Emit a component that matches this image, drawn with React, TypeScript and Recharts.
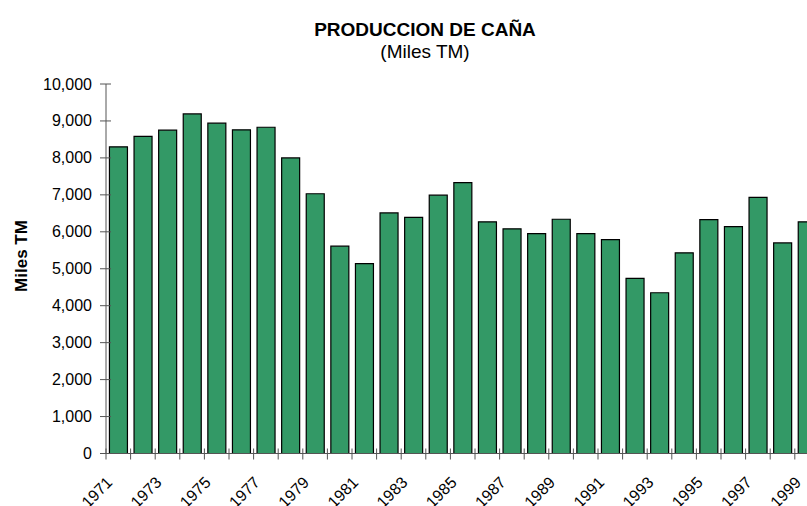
import React from 'react';
import { BarChart, Bar, XAxis, YAxis } from 'recharts';

const years = [
  '1971', '1972', '1973', '1974', '1975', '1976', '1977', '1978', '1979', '1980',
  '1981', '1982', '1983', '1984', '1985', '1986', '1987', '1988', '1989', '1990',
  '1991', '1992', '1993', '1994', '1995', '1996', '1997', '1998', '1999',
];

const produccion = [
  8300, 8580, 8750, 9190, 8940, 8760, 8830, 8000, 7030, 5610,
  5140, 6510, 6390, 6990, 7330, 6270, 6080, 5950, 6340, 5950,
  5790, 4740, 4350, 5430, 6330, 6140, 6930, 5700, 6270,
];

const yTicks = [0, 1000, 2000, 3000, 4000, 5000, 6000, 7000, 8000, 9000, 10000];

const data = years.map((y, i) => ({ year: y, value: produccion[i] }));

const FONT = '"Liberation Sans", Arial, sans-serif';

const fmt = (v: number) => v.toLocaleString('en-US');

const XTick = (props: any) => {
  const { x, y, payload, index } = props;
  const half = payload.offset || 0;
  const tx = x - 5;
  const ty = y + 30;
  return (
    <g>
      <line x1={x - half} x2={x - half} y1={y - 5} y2={y + 6} stroke="#555" strokeWidth={1} />
      {index % 2 === 0 && (
        <text
          x={tx}
          y={ty}
          transform={`rotate(-45, ${tx}, ${ty})`}
          textAnchor="end"
          fontSize={16}
          fontFamily={FONT}
          fill="#000"
        >
          {payload.value}
        </text>
      )}
    </g>
  );
};

const YTick = (props: any) => {
  const { x, y, payload } = props;
  return (
    <g>
      <line x1={x + 8} x2={x + 19} y1={y} y2={y} stroke="#555" strokeWidth={1} />
      <text x={x} y={y} dy={5.5} textAnchor="end" fontSize={16} fontFamily={FONT} fill="#000">
        {fmt(payload.value)}
      </text>
    </g>
  );
};

export default function App() {
  return (
    <div style={{ position: 'absolute', left: 0, top: 0, width: 807, height: 506, overflow: 'hidden', background: '#fff', fontFamily: FONT }}>
      <div style={{ position: 'absolute', left: 225, top: 20, width: 400, textAlign: 'center', fontSize: 19, lineHeight: '19px', fontWeight: 'bold' }}>
        PRODUCCION DE CAÑA
      </div>
      <div style={{ position: 'absolute', left: 225, top: 42, width: 400, textAlign: 'center', fontSize: 19, lineHeight: '19px' }}>
        (Miles TM)
      </div>
      <BarChart
        width={830}
        height={506}
        data={data}
        margin={{ top: 84, right: 10.6, bottom: 0, left: 0 }}
        barCategoryGap="14%"
      >
        <XAxis
          dataKey="year"
          interval={0}
          tickSize={0}
          tickMargin={0}
          tick={<XTick />}
          height={52.5}
          axisLine={{ stroke: '#555' }}
        />
        <YAxis
          domain={[0, 10000]}
          ticks={yTicks}
          interval={0}
          width={106}
          tickSize={0}
          tickMargin={14}
          tick={<YTick />}
          axisLine={{ stroke: '#555' }}
          label={{
            content: () => (
              <text
                x={21}
                y={256}
                transform="rotate(-90, 21, 256)"
                textAnchor="middle"
                dominantBaseline="central"
                fontSize={17}
                fontWeight="bold"
                fontFamily={FONT}
                fill="#000"
              >
                Miles TM
              </text>
            ),
          }}
        />
        <Bar dataKey="value" fill="#339966" stroke="#000" strokeWidth={1.2} isAnimationActive={false} />
      </BarChart>
    </div>
  );
}
